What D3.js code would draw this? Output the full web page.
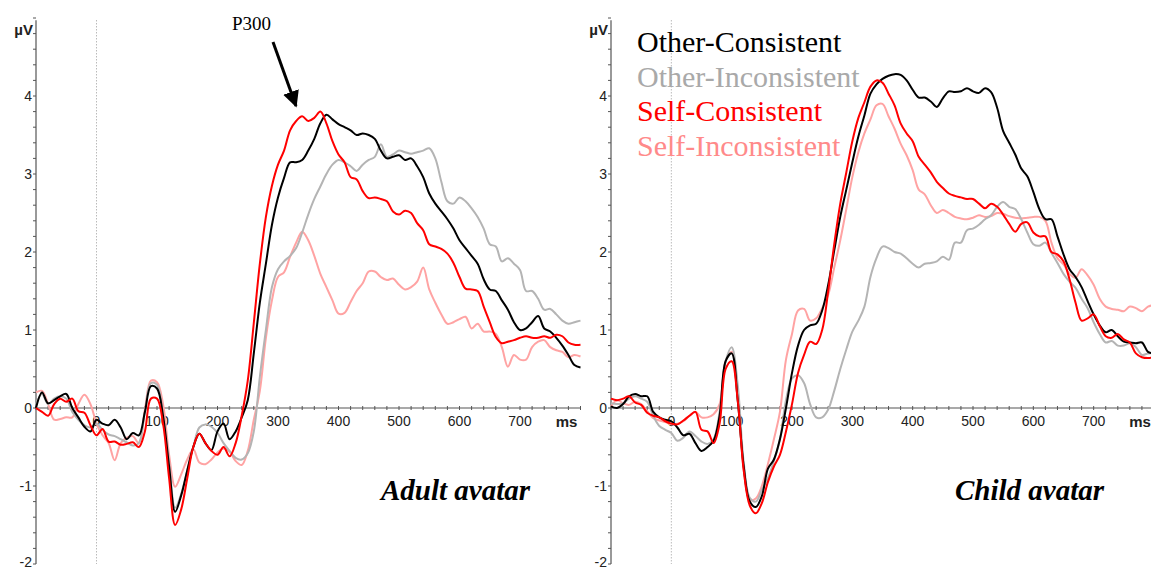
<!DOCTYPE html>
<html lang="en">
  <head>
    <meta charset="UTF-8" />
    <title>ERP P300</title>
    <style>
      body { margin: 0; background: #fff; }
      svg { display: block; }
    </style>
  </head>
  <body>
    <svg width="1151" height="570"></svg>
    <script src="https://cdnjs.cloudflare.com/ajax/libs/d3/7.8.5/d3.min.js"></script>
    <script>
      // time axis, 10 ms steps from -100 to 800
      var times = d3.range(-100, 801, 10);
      var xTicks = [0, 100, 200, 300, 400, 500, 600, 700];
      var yTicks = [-2, -1, 0, 1, 2, 3, 4];

      var conditions = ["Other-Consistent", "Other-Inconsistent", "Self-Consistent", "Self-Inconsistent"];
      var lineColors = ["#000000", "#b4b4b4", "#ff0000", "#ffa3a3"];
      var textColors = ["#000000", "#a9a9a9", "#ff0000", "#ff8a8a"];

      // Adult avatar panel (µV)
      var adultOtherCons = [0.0, 0.2, 0.06, 0.1, 0.15, 0.18, 0.0, -0.12, -0.24, -0.3,
        -0.15, -0.2, -0.22, -0.15, -0.25, -0.4, -0.32, -0.35, -0.05, 0.28,
        0.25, -0.1, -0.75, -1.33, -1.12, -0.8, -0.5, -0.33, -0.45, -0.54,
        -0.3, -0.2, -0.4, -0.3, -0.12, 0.1, 0.7, 1.35, 1.85, 2.35,
        2.7, 2.95, 3.15, 3.15, 3.18, 3.3, 3.45, 3.65, 3.76, 3.7,
        3.64, 3.6, 3.56, 3.5, 3.52, 3.5, 3.45, 3.3, 3.2, 3.22,
        3.24, 3.18, 3.2, 3.1, 2.96, 2.75, 2.62, 2.52, 2.42, 2.3,
        2.15, 2.05, 1.95, 1.85, 1.65, 1.52, 1.5, 1.38, 1.26, 1.1,
        1.0, 1.02, 1.1, 1.18, 1.02, 0.98, 0.9, 0.8, 0.68, 0.55, 0.52];
      var adultOtherIncons = [0.05, 0.18, 0.05, 0.12, 0.15, 0.12, -0.05, -0.15, -0.22, -0.25,
        -0.2, -0.28, -0.34, -0.36, -0.4, -0.44, -0.48, -0.45, -0.05, 0.32,
        0.3, -0.1, -0.7, -1.28, -1.1, -0.8, -0.5, -0.25, -0.21, -0.24,
        -0.32, -0.45, -0.55, -0.64, -0.66, -0.58, -0.3, 0.4, 1.0, 1.55,
        1.78, 1.88, 1.95, 2.05, 2.25, 2.48, 2.68, 2.84, 3.0, 3.12,
        3.18, 3.15, 3.1, 3.04, 3.12, 3.18, 3.22, 3.38, 3.22, 3.25,
        3.3, 3.28, 3.26, 3.28, 3.3, 3.33, 3.2, 2.9, 2.65, 2.62,
        2.7, 2.65, 2.56, 2.45, 2.3, 2.1, 2.07, 1.88, 1.92, 1.85,
        1.77, 1.5, 1.5, 1.4, 1.26, 1.27, 1.2, 1.12, 1.08, 1.1, 1.12];
      var adultSelfCons = [0.0, -0.05, -0.1, 0.05, 0.12, 0.08, 0.12, -0.04, -0.06, -0.22,
        -0.35, -0.27, -0.43, -0.43, -0.47, -0.46, -0.44, -0.5, -0.3, 0.12,
        0.12, -0.2, -0.9, -1.5, -1.3, -0.9, -0.5, -0.33, -0.45, -0.55,
        -0.6, -0.5, -0.62, -0.45, -0.1, 0.35, 1.09, 1.85, 2.45, 2.85,
        3.12, 3.3, 3.56, 3.68, 3.74, 3.68, 3.72, 3.8, 3.65, 3.42,
        3.25, 3.15, 2.96, 2.93, 2.78, 2.69, 2.7, 2.68, 2.65, 2.52,
        2.48, 2.53, 2.5, 2.37, 2.28, 2.1, 2.07, 2.04, 1.98, 1.86,
        1.68, 1.53, 1.52, 1.5, 1.3, 1.1, 0.91, 0.83, 0.85, 0.87,
        0.9, 0.92, 0.9, 0.9, 0.92, 0.9, 0.94, 0.92, 0.84, 0.81, 0.81];
      var adultSelfIncons = [0.2, 0.22, 0.05, -0.15, -0.14, -0.12, -0.12, 0.05, 0.17, 0.05,
        -0.2, -0.35, -0.45, -0.67, -0.45, -0.38, -0.36, -0.45, -0.02, 0.35,
        0.33, 0.05, -0.6, -1.01, -0.85, -0.66, -0.53, -0.7, -0.72, -0.66,
        -0.57, -0.52, -0.56, -0.68, -0.73, -0.55, -0.15, 0.22, 0.9, 1.38,
        1.68, 1.74, 1.94, 2.12, 2.26, 2.15, 1.95, 1.72, 1.55, 1.38,
        1.21, 1.22, 1.36, 1.5, 1.6, 1.75, 1.75, 1.68, 1.64, 1.66,
        1.58, 1.52, 1.55, 1.62, 1.8, 1.52, 1.35, 1.2, 1.08, 1.1,
        1.14, 1.17, 1.02, 1.08, 0.98, 0.98, 0.95, 0.78, 0.53, 0.68,
        0.62, 0.62, 0.78, 0.85, 0.87, 0.78, 0.74, 0.72, 0.65, 0.68, 0.66];

      // Child avatar panel (µV)
      var childOtherCons = [0.02, 0.0, 0.05, 0.15, 0.18, 0.15, 0.15, -0.05, -0.12, -0.15,
        -0.17, -0.25, -0.35, -0.33, -0.45, -0.55, -0.5, -0.42, -0.1, 0.6,
        0.7, 0.1, -0.75, -1.2, -1.27, -1.13, -0.78, -0.66, -0.4, 0.0,
        0.45, 0.8, 1.0, 1.06, 1.08, 1.25, 1.58, 2.02, 2.45, 2.8,
        3.15, 3.48, 3.75, 4.03, 4.15, 4.22, 4.26, 4.28, 4.27, 4.2,
        4.08, 3.98, 3.98, 3.93, 3.86, 3.97, 4.06, 4.05, 4.06, 4.1,
        4.06, 4.04, 4.1, 4.05, 3.85, 3.55, 3.4, 3.25, 3.07, 2.97,
        2.77, 2.55, 2.42, 2.42, 2.2, 1.97, 1.78, 1.68, 1.55, 1.37,
        1.2, 1.06, 0.97, 1.0, 0.92, 0.85, 0.84, 0.83, 0.84, 0.72, 0.7];
      var childOtherIncons = [0.06, 0.05, 0.06, 0.12, 0.15, 0.12, 0.08, -0.1, -0.23, -0.28,
        -0.32, -0.42, -0.38, -0.3, -0.36, -0.43, -0.46, -0.4, -0.05, 0.6,
        0.78, 0.3, -0.7, -1.15, -1.2, -1.05, -0.9, -0.68, -0.4, 0.1,
        0.38, 0.42, 0.32, 0.05, -0.12, -0.12, -0.02, 0.22, 0.5, 0.75,
        0.98, 1.12, 1.3, 1.68, 1.92, 2.07, 2.05, 2.0, 1.98, 1.92,
        1.85, 1.8, 1.85, 1.86, 1.88, 1.94, 1.9, 2.12, 2.12, 2.28,
        2.3, 2.35, 2.42, 2.47, 2.58, 2.64, 2.58, 2.55, 2.42, 2.25,
        2.1, 2.08, 2.12, 1.99, 1.86, 1.72, 1.62, 1.54, 1.4, 1.28,
        1.1, 0.95, 0.84, 0.86, 0.8, 0.8, 0.83, 0.78, 0.68, 0.7, 0.7];
      var childSelfCons = [0.12, 0.1, 0.12, 0.15, 0.07, 0.04, -0.06, -0.1, -0.12, -0.17,
        -0.2, -0.21, -0.16, -0.1, -0.05, -0.28, -0.3, -0.45, -0.2, 0.5,
        0.6, 0.1, -0.8, -1.25, -1.35, -1.22, -0.95, -0.75, -0.6, -0.3,
        0.05, 0.45, 0.68, 0.85, 0.82, 1.0, 1.5, 2.1, 2.62, 3.02,
        3.42, 3.72, 3.92, 4.12, 4.2, 4.17, 4.03, 3.88, 3.65, 3.52,
        3.42, 3.22, 3.12, 3.02, 2.9, 2.82, 2.75, 2.72, 2.7, 2.68,
        2.68, 2.62, 2.56, 2.62, 2.58, 2.48, 2.36, 2.26, 2.36, 2.38,
        2.25, 2.2, 2.2, 2.0, 1.97, 1.88, 1.65, 1.35, 1.12, 1.15,
        1.2, 1.05, 0.92, 0.9, 0.95, 0.88, 0.84, 0.7, 0.65, 0.64, 0.65];
      var childSelfIncons = [0.02, 0.1, 0.06, 0.04, 0.08, 0.05, -0.04, -0.13, -0.16, -0.18,
        -0.21, -0.2, -0.17, -0.1, -0.05, -0.12, -0.12, -0.08, 0.05, 0.6,
        0.72, 0.2, -0.8, -1.18, -1.16, -1.0, -0.72, -0.4, -0.05, 0.62,
        0.95, 1.25, 1.27, 1.12, 1.15, 1.28, 1.45, 1.8, 2.15, 2.55,
        2.96, 3.28, 3.52, 3.7, 3.88, 3.9, 3.74, 3.58, 3.39, 3.24,
        3.05, 2.8, 2.74, 2.6, 2.5, 2.54, 2.5, 2.45, 2.43, 2.42,
        2.44, 2.47, 2.45, 2.46, 2.5, 2.49, 2.46, 2.44, 2.43, 2.44,
        2.45, 2.45, 2.4, 2.12, 1.92, 1.84, 1.72, 1.67, 1.78, 1.7,
        1.58, 1.4, 1.3, 1.27, 1.26, 1.24, 1.3, 1.28, 1.24, 1.3, 1.32];

      var svg = d3.select("svg");
      var sans = "'Liberation Sans', Arial, sans-serif";
      var serif = "'Liberation Serif', 'Times New Roman', serif";

      var panels = [
        {
          name: "Adult avatar",
          xRange: [36, 580.5],
          series: [adultOtherCons, adultOtherIncons, adultSelfCons, adultSelfIncons],
          labelX: 381,
        },
        {
          name: "Child avatar",
          xRange: [611, 1154],
          series: [childOtherCons, childOtherIncons, childSelfCons, childSelfIncons],
          labelX: 955,
        },
      ];

      var y = d3.scaleLinear().domain([-2, 5]).range([564, 18]);

      // draw order: light ones under dark ones
      var drawOrder = [3, 1, 0, 2];

      panels.forEach(function (p) {
        var x = d3.scaleLinear().domain([-100, 800]).range(p.xRange);
        var g = svg.append("g");
        var x0 = p.xRange[0];

        // dotted stimulus onset line
        g.append("line")
          .attr("x1", x(0)).attr("x2", x(0))
          .attr("y1", y(4.97)).attr("y2", y(-2))
          .attr("stroke", "#999")
          .attr("stroke-width", 1)
          .attr("stroke-dasharray", "1,2");

        // y axis
        g.append("line")
          .attr("x1", x0).attr("x2", x0)
          .attr("y1", y(4.97)).attr("y2", y(-2))
          .attr("stroke", "#555").attr("stroke-width", 1.2);
        var minorY = d3.range(-2, 5.01, 0.2);
        g.selectAll(".ymin")
          .data(minorY)
          .enter()
          .append("line")
          .attr("x1", x0 - 3).attr("x2", x0)
          .attr("y1", function (d) { return y(d); })
          .attr("y2", function (d) { return y(d); })
          .attr("stroke", "#555").attr("stroke-width", 1);
        g.selectAll(".ylab")
          .data(yTicks)
          .enter()
          .append("text")
          .attr("x", x0 - 4)
          .attr("y", function (d) { return Math.min(y(d) + 5, 567); })
          .attr("text-anchor", "end")
          .attr("font-family", sans)
          .attr("font-size", 14)
          .attr("fill", "#222")
          .text(function (d) { return d; });
        g.append("text")
          .attr("x", x0 - 3)
          .attr("y", 35)
          .attr("text-anchor", "end")
          .attr("font-family", sans)
          .attr("font-weight", "bold")
          .attr("font-size", 15)
          .attr("fill", "#222")
          .text("µV");

        // x axis at 0 µV
        g.append("line")
          .attr("x1", x0).attr("x2", p.xRange[1])
          .attr("y1", y(0)).attr("y2", y(0))
          .attr("stroke", "#555").attr("stroke-width", 1.2);
        var minorX = d3.range(-100, 801, 20);
        g.selectAll(".xmin")
          .data(minorX)
          .enter()
          .append("line")
          .attr("x1", function (d) { return x(d); })
          .attr("x2", function (d) { return x(d); })
          .attr("y1", y(0) - 2).attr("y2", y(0) + 2)
          .attr("stroke", "#555").attr("stroke-width", 1);
        g.selectAll(".xlab")
          .data(xTicks)
          .enter()
          .append("text")
          .attr("x", function (d) { return x(d); })
          .attr("y", y(0) + 18)
          .attr("text-anchor", "middle")
          .attr("font-family", sans)
          .attr("font-size", 14)
          .attr("fill", "#222")
          .text(function (d) { return d; });
        g.append("text")
          .attr("x", x(795))
          .attr("y", y(0) + 19)
          .attr("text-anchor", "end")
          .attr("font-family", sans)
          .attr("font-weight", "bold")
          .attr("font-size", 15)
          .attr("fill", "#222")
          .text("ms");

        // waveforms
        var line = d3.line()
          .x(function (d, i) { return x(times[i]); })
          .y(function (d) { return y(d); })
          .curve(d3.curveCatmullRom.alpha(0.5));

        drawOrder.forEach(function (k) {
          g.append("path")
            .datum(p.series[k])
            .attr("d", line)
            .attr("fill", "none")
            .attr("stroke", lineColors[k])
            .attr("stroke-width", 2)
            .attr("stroke-linejoin", "round");
        });

        // panel name
        g.append("text")
          .attr("x", p.labelX)
          .attr("y", 500)
          .attr("font-family", serif)
          .attr("font-weight", "bold")
          .attr("font-style", "italic")
          .attr("font-size", 29)
          .attr("fill", "#000")
          .text(p.name);
      });

      // legend in the right panel
      svg.append("g")
        .selectAll("text")
        .data(conditions)
        .enter()
        .append("text")
        .attr("x", 637)
        .attr("y", function (d, i) { return 52 + i * 34.5; })
        .attr("font-family", serif)
        .attr("font-size", 30)
        .attr("fill", function (d, i) { return textColors[i]; })
        .text(function (d) { return d; });

      // P300 annotation
      svg.append("defs")
        .append("marker")
        .attr("id", "head")
        .attr("viewBox", "0 0 10 10")
        .attr("refX", 9)
        .attr("refY", 5)
        .attr("markerWidth", 5.5)
        .attr("markerHeight", 5.5)
        .attr("markerUnits", "strokeWidth")
        .attr("orient", "auto")
        .append("path")
        .attr("d", "M0,0 L10,5 L0,10 z")
        .attr("fill", "#000");
      svg.append("line")
        .attr("x1", 273).attr("y1", 42)
        .attr("x2", 296).attr("y2", 106)
        .attr("stroke", "#000")
        .attr("stroke-width", 3)
        .attr("marker-end", "url(#head)");
      svg.append("text")
        .attr("x", 232)
        .attr("y", 30)
        .attr("font-family", serif)
        .attr("font-size", 19)
        .attr("fill", "#000")
        .text("P300");
    </script>
  </body>
</html>
